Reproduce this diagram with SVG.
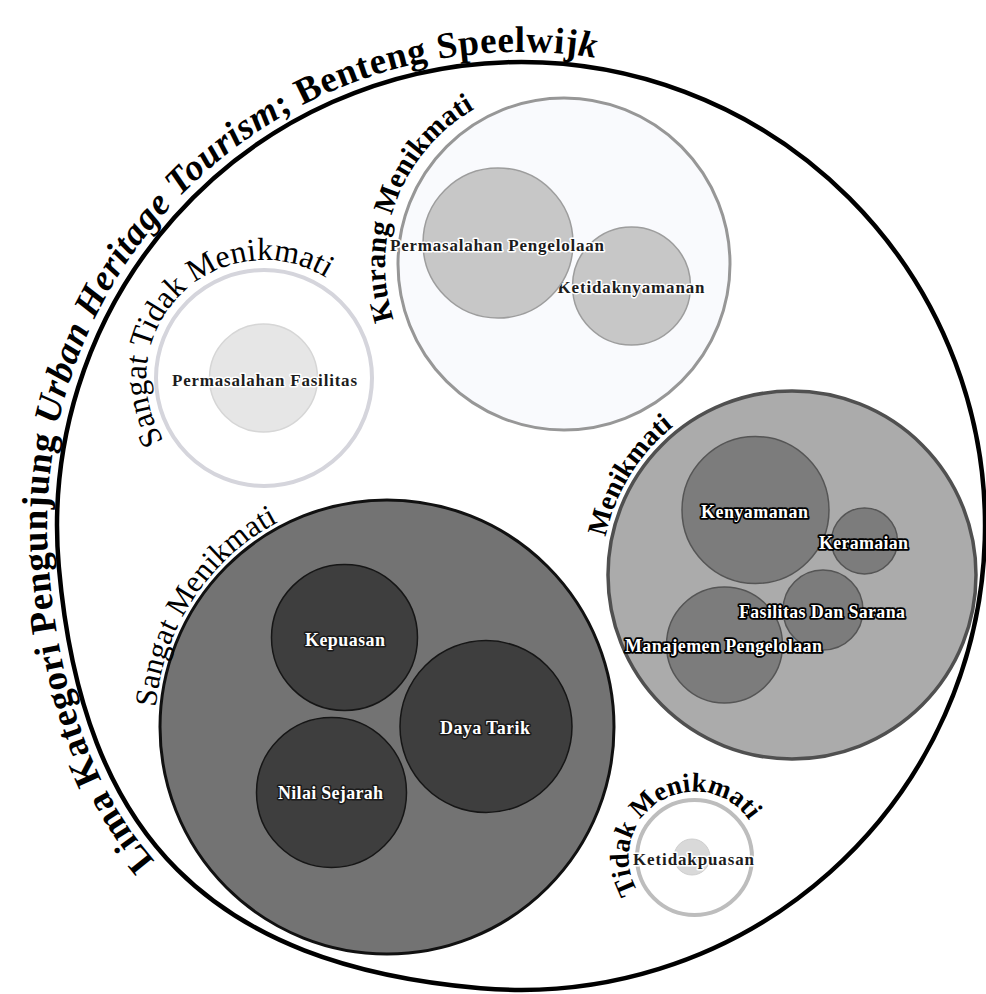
<svg xmlns="http://www.w3.org/2000/svg" width="986" height="994" viewBox="0 0 986 994">
<style>
.t{font-family:"Liberation Serif","Times New Roman",serif;font-weight:bold}
.reg{font-weight:normal}
.dk{fill:#1c1c1c;stroke:#ffffff;stroke-width:3;paint-order:stroke;stroke-linejoin:round;font-size:17px;text-anchor:middle}
.wh{fill:#ffffff;stroke:#1a1a1a;stroke-width:3;paint-order:stroke;stroke-linejoin:round;font-size:18px;text-anchor:middle}
.wk{fill:#ffffff;stroke:#000000;stroke-width:3.5;paint-order:stroke;stroke-linejoin:round;font-size:18px;text-anchor:middle}
.arc{fill:#000000;text-anchor:middle}
.c-kur{fill:#c7c7c7;stroke:#9d9d9d;stroke-width:1.5}
.c-sang{fill:#3e3e3e;stroke:#161616;stroke-width:1.5}
.c-men{fill:#7c7c7c;stroke:#555555;stroke-width:1.5}
</style>
<defs>
<path id="pTitle" d="M 479.7 998.2 C 204.0 974.1 72.9 843.0 48.8 567.3 A 474 474 0 0 1 758 115.5"/>
<path id="pKurang" d="M 424.9 376.6 A 179 179 0 0 1 536.0 87.2"/>
<path id="pSTM" d="M 196.3 474.7 A 118 118 0 1 1 360.7 310.3"/>
<path id="pSM" d="M 179.4 830.5 A 232 232 0 0 1 401.2 495.4"/>
<path id="pM" d="M 611.8 635.3 A 190 190 0 0 1 763.9 387.1"/>
<path id="pTM" d="M 645.8 902.1 A 66 66 0 1 1 755.5 832.2"/>
</defs>
<rect width="986" height="994" fill="#ffffff"/>

<g id="lima-kategori">
<path d="M 480.6 988.2 C 210.7 964.6 82.4 836.3 58.8 566.4 A 464 464 0 1 1 480.6 988.2 Z" fill="#ffffff" stroke="#000000" stroke-width="4.5"/>
<text class="t arc" font-size="37" letter-spacing="0.7"><textPath href="#pTitle" startOffset="951">Lima Kategori Pengunjung <tspan font-style="italic">Urban Heritage Tourism</tspan>; Benteng Speelwij<tspan font-style="italic">k</tspan></textPath></text>
</g>

<g id="kurang-menikmati">
<circle cx="564" cy="264" r="166" fill="#f9fafd" stroke="#979797" stroke-width="3"/>
<text class="t arc" font-size="29" letter-spacing="0.2"><textPath href="#pKurang" startOffset="50%">Kurang Menikmati</textPath></text>
<g id="ketidaknyamanan">
<circle class="c-kur" cx="631.5" cy="286" r="59"/>
<text class="t dk" x="631" y="293" textLength="147" lengthAdjust="spacing">Ketidaknyamanan</text>
</g>
<g id="permasalahan-pengelolaan">
<circle class="c-kur" cx="498" cy="243" r="75"/>
<text class="t dk" x="497" y="251" textLength="214" lengthAdjust="spacing">Permasalahan Pengelolaan</text>
</g>
</g>

<g id="sangat-tidak-menikmati">
<circle cx="264" cy="378" r="108" fill="#ffffff" stroke="#d5d5dc" stroke-width="4"/>
<text class="t reg arc" font-size="32"><textPath href="#pSTM" startOffset="50%">Sangat Tidak Menikmati</textPath></text>
<g id="permasalahan-fasilitas">
<circle cx="263.5" cy="378" r="54" fill="#e6e6e6" stroke="#d6d6d6" stroke-width="1.5"/>
<text class="t dk" x="264.5" y="386" textLength="185" lengthAdjust="spacing">Permasalahan Fasilitas</text>
</g>
</g>

<g id="sangat-menikmati">
<circle cx="387" cy="727" r="227" fill="#737373" stroke="#111111" stroke-width="3"/>
<text class="t reg arc" font-size="31" letter-spacing="0.2"><textPath href="#pSM" startOffset="50%">Sangat Menikmati</textPath></text>
<g id="kepuasan">
<circle class="c-sang" cx="344.5" cy="637.5" r="73"/>
<text class="t wh" x="345" y="646" textLength="80" lengthAdjust="spacing">Kepuasan</text>
</g>
<g id="daya-tarik">
<circle class="c-sang" cx="486" cy="726.5" r="86"/>
<text class="t wh" x="485" y="734" textLength="90" lengthAdjust="spacing">Daya Tarik</text>
</g>
<g id="nilai-sejarah">
<circle class="c-sang" cx="331.5" cy="792.5" r="75"/>
<text class="t wh" x="330.5" y="799" textLength="105" lengthAdjust="spacing">Nilai Sejarah</text>
</g>
</g>

<g id="menikmati">
<circle cx="792" cy="575" r="184" fill="#ababab" stroke="#505050" stroke-width="3.5"/>
<text class="t arc" font-size="28"><textPath href="#pM" startOffset="50%">Menikmati</textPath></text>
<g id="kenyamanan"><circle class="c-men" cx="755.5" cy="510" r="73.5"/></g>
<g id="keramaian"><circle class="c-men" cx="864.5" cy="541" r="33"/></g>
<g id="manajemen-pengelolaan"><circle class="c-men" cx="724.5" cy="645" r="58"/></g>
<g id="fasilitas-dan-sarana"><circle class="c-men" cx="823" cy="610" r="40"/></g>
<g id="menikmati-labels">
<text class="t wk" x="754.5" y="518" textLength="107" lengthAdjust="spacing">Kenyamanan</text>
<text class="t wk" x="863.5" y="549" textLength="89" lengthAdjust="spacing">Keramaian</text>
<text class="t wk" x="822" y="618" textLength="166" lengthAdjust="spacing">Fasilitas Dan Sarana</text>
<text class="t wk" x="723.5" y="652" textLength="197" lengthAdjust="spacing">Manajemen Pengelolaan</text>
</g>
</g>

<g id="tidak-menikmati">
<circle cx="694.5" cy="857.5" r="57.5" fill="#ffffff" stroke="#bdbdbd" stroke-width="4"/>
<text class="t arc" font-size="27"><textPath href="#pTM" startOffset="50%">Tidak Menikmati</textPath></text>
<g id="ketidakpuasan">
<circle cx="692" cy="857" r="18" fill="#d9d9d9" stroke="#cfcfcf" stroke-width="1"/>
<text class="t dk" x="693.5" y="865" textLength="121" lengthAdjust="spacing">Ketidakpuasan</text>
</g>
</g>

<g id="connectors"></g>
</svg>
